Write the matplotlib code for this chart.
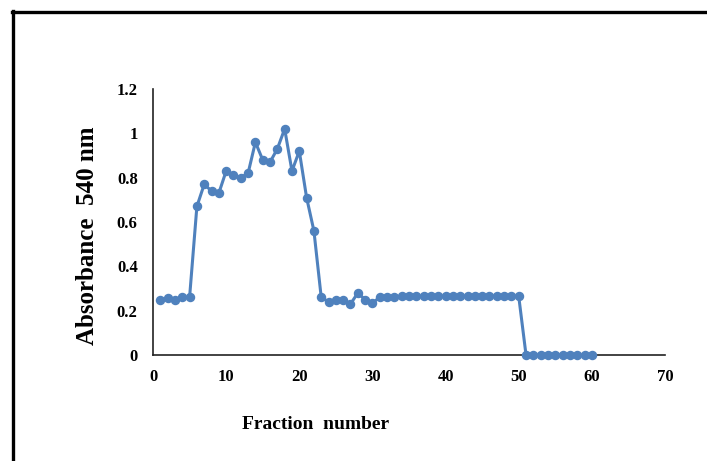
import matplotlib.pyplot as plt
from matplotlib.lines import Line2D
from matplotlib.ticker import FuncFormatter

# fraction number vs absorbance at 540 nm
fractions = list(range(1, 61))
absorbance = [
    0.25, 0.255, 0.25, 0.26, 0.26, 0.67, 0.77, 0.74, 0.73, 0.83,
    0.81, 0.80, 0.82, 0.96, 0.88, 0.87, 0.93, 1.02, 0.83, 0.92,
    0.71, 0.56, 0.26, 0.24, 0.25, 0.25, 0.23, 0.28, 0.25, 0.235,
    0.26, 0.26, 0.26, 0.265, 0.265, 0.265, 0.265, 0.265, 0.265, 0.265,
    0.265, 0.265, 0.265, 0.265, 0.265, 0.265, 0.265, 0.265, 0.265, 0.265,
    0.0, 0.0, 0.0, 0.0, 0.0, 0.0, 0.0, 0.0, 0.0, 0.0,
]
x_ticks = [0, 10, 20, 30, 40, 50, 60, 70]
y_ticks = [0, 0.2, 0.4, 0.6, 0.8, 1.0, 1.2]

plt.rcParams["font.family"] = ["Liberation Serif", "DejaVu Serif"]
plt.rcParams["font.weight"] = "bold"

W, H = 707, 461
fig = plt.figure(figsize=(W / 100, H / 100), dpi=100)
ax = fig.add_axes([153 / W, 1 - 355 / H, (665 - 153) / W, (355 - 89) / H])

ax.plot(fractions, absorbance, color="#4F81BD", linewidth=2.2,
        marker="o", markersize=5.8, clip_on=False, zorder=3)

ax.set_xlim(0, 70)
ax.set_ylim(0, 1.2)
ax.set_xticks(x_ticks)
ax.set_yticks(y_ticks)
ax.yaxis.set_major_formatter(FuncFormatter(lambda v, p: f"{v:g}"))
ax.tick_params(length=0, labelsize=12)
ax.tick_params(axis="y", pad=11)
ax.tick_params(axis="x", pad=10)
for lab in ax.get_xticklabels() + ax.get_yticklabels():
    lab.set_fontweight("bold")

for side in ("top", "right"):
    ax.spines[side].set_visible(False)
for side in ("left", "bottom"):
    ax.spines[side].set_linewidth(1.2)
    ax.spines[side].set_color("#222222")

fig.text(87 / W, 1 - 236 / H, "Absorbance  540 nm", rotation=90,
         ha="center", va="center", fontsize=18, fontweight="bold")
fig.text(316 / W, 1 - 424 / H, "Fraction  number",
         ha="center", va="center", fontsize=14, fontweight="bold")

# outer frame (left and top edges)
fig.add_artist(Line2D([13 / W, 13 / W], [0, 1 - 11 / H], color="black",
                      linewidth=2.4, transform=fig.transFigure))
fig.add_artist(Line2D([12 / W, 1], [1 - 12 / H, 1 - 12 / H], color="black",
                      linewidth=2.4, transform=fig.transFigure))

fig.savefig("out.png", dpi=100)
